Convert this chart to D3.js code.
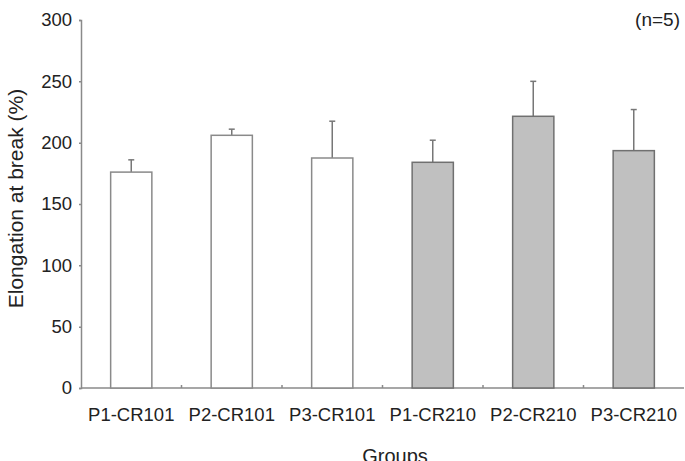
<!DOCTYPE html>
<html>
<head>
<meta charset="utf-8">
<script src="https://cdn.jsdelivr.net/npm/d3@7"></script>
<style>
  body { margin: 0; background: #fff; }
  svg { display: block; font-family: "Liberation Sans", Arial, sans-serif; }
  .axis path, .axis line { stroke: #8a8a8a; stroke-width: 1.5; }
  .axis text { fill: #222; }
</style>
</head>
<body>
<div id="chart"></div>
<script>
// Elongation at break by group (mean with upward SD bar)
const groups = ["P1-CR101", "P2-CR101", "P3-CR101", "P1-CR210", "P2-CR210", "P3-CR210"];
const means = [176, 206, 187.5, 184, 221.5, 193.5];
const errors = [10, 5, 30, 18, 28.5, 33.5];
const fills = ["#ffffff", "#ffffff", "#ffffff", "#c0c0c0", "#c0c0c0", "#c0c0c0"];
const yTicks = [0, 50, 100, 150, 200, 250, 300];

const W = 685, H = 461;
const margin = { top: 20, right: 1, bottom: 73, left: 81 };
const width = W - margin.left - margin.right;
const height = H - margin.top - margin.bottom;

const svg = d3.select("#chart").append("svg")
  .attr("width", W)
  .attr("height", H)
  .append("g")
  .attr("transform", `translate(${margin.left},${margin.top})`);

const x = d3.scaleBand().domain(groups).range([0, width]).padding(0);
const y = d3.scaleLinear().domain([0, 300]).range([height, 0]);
const barW = x.bandwidth() * 0.41;

// y axis
const yAxis = svg.append("g").attr("class", "axis")
  .call(d3.axisLeft(y).tickValues(yTicks).tickSize(2).tickPadding(7));
yAxis.selectAll("text").style("font-size", "18.5px");

// x axis: ticks at band boundaries, pointing up
const xAxis = svg.append("g").attr("class", "axis")
  .attr("transform", `translate(0,${height})`);
xAxis.append("line").attr("x1", 0).attr("x2", width).attr("y1", 0).attr("y2", 0);
xAxis.selectAll(".bt")
  .data(groups.slice(1))
  .join("line")
  .attr("class", "bt")
  .attr("x1", d => x(d)).attr("x2", d => x(d))
  .attr("y1", 0).attr("y2", -3);
xAxis.selectAll(".lbl")
  .data(groups)
  .join("text")
  .attr("class", "lbl")
  .attr("x", d => x(d) + x.bandwidth() / 2)
  .attr("y", 33)
  .attr("text-anchor", "middle")
  .style("font-size", "18.5px")
  .text(d => d);

// error bars (upper only)
const bars = groups.map((g, i) => ({ g, m: means[i], e: errors[i], f: fills[i] }));
svg.selectAll(".err")
  .data(bars)
  .join("line")
  .attr("class", "err")
  .attr("x1", d => x(d.g) + x.bandwidth() / 2)
  .attr("x2", d => x(d.g) + x.bandwidth() / 2)
  .attr("y1", d => y(d.m))
  .attr("y2", d => y(d.m + d.e))
  .attr("stroke", "#777").attr("stroke-width", 1.5);
svg.selectAll(".cap")
  .data(bars)
  .join("line")
  .attr("class", "cap")
  .attr("x1", d => x(d.g) + x.bandwidth() / 2 - 3)
  .attr("x2", d => x(d.g) + x.bandwidth() / 2 + 3)
  .attr("y1", d => y(d.m + d.e))
  .attr("y2", d => y(d.m + d.e))
  .attr("stroke", "#777").attr("stroke-width", 1.5);

// bars
svg.selectAll(".bar")
  .data(bars)
  .join("rect")
  .attr("class", "bar")
  .attr("x", d => x(d.g) + (x.bandwidth() - barW) / 2)
  .attr("y", d => y(d.m))
  .attr("width", barW)
  .attr("height", d => height - y(d.m))
  .attr("fill", d => d.f)
  .attr("stroke", d => d.f === "#ffffff" ? "#8a8a8a" : "#707070")
  .attr("stroke-width", 1.5);

// titles
svg.append("text")
  .attr("transform", `translate(${22.5 - margin.left},${198.5 - margin.top}) rotate(-90)`)
  .attr("text-anchor", "middle")
  .style("font-size", "21px")
  .attr("fill", "#222")
  .text("Elongation at break (%)");

svg.append("text")
  .attr("x", 395 - margin.left)
  .attr("y", 463 - margin.top)
  .attr("text-anchor", "middle")
  .style("font-size", "20px")
  .attr("fill", "#222")
  .text("Groups");

svg.append("text")
  .attr("x", 680 - margin.left)
  .attr("y", 26 - margin.top)
  .attr("text-anchor", "end")
  .style("font-size", "19px")
  .attr("fill", "#222")
  .text("(n=5)");
</script>
</body>
</html>
